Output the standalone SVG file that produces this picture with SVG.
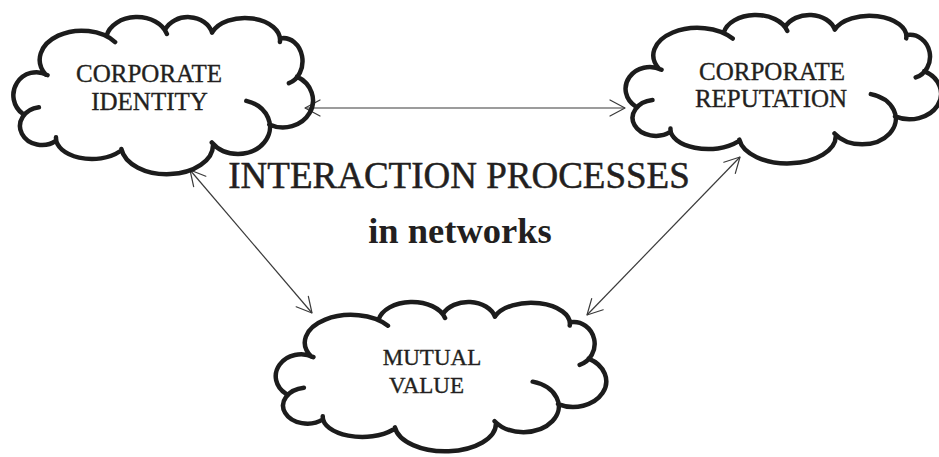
<svg xmlns="http://www.w3.org/2000/svg" xmlns:xlink="http://www.w3.org/1999/xlink" width="939" height="457" viewBox="0 0 939 457">
  <style>
    .cloud { fill: none; stroke: #1c1c1c; stroke-width: 4.5; stroke-linecap: round; stroke-linejoin: round; }
    .label { font-family: "Liberation Serif", "Times New Roman", serif; fill: #231f20; stroke: #231f20; stroke-width: 0.35; text-anchor: middle; }
    .big { font-size: 25px; }
    .small { font-size: 23px; }
    .title { font-family: "Liberation Serif", "Times New Roman", serif; fill: #231f20; font-size: 37px; stroke: #231f20; stroke-width: 0.5; }
    .sub { font-family: "Liberation Serif", "Times New Roman", serif; fill: #231f20; font-size: 36.5px; font-weight: bold; }
    .link { fill: none; stroke: #3a3a3a; stroke-width: 1.2; marker-start: url(#tip); marker-end: url(#tip); }
  </style>
  <defs>
    <!-- open V arrowhead, reused at both ends of every link -->
    <marker id="tip" markerUnits="userSpaceOnUse" markerWidth="20" markerHeight="20" viewBox="-17 -10 20 20" refX="0" refY="0" orient="auto-start-reverse">
      <path d="M-15 -8 L0 0 L-15 8" fill="none" stroke="#3a3a3a" stroke-width="1.2" stroke-linecap="round" stroke-linejoin="round"/>
    </marker>
    <!-- cloud outline: a ring of elliptical bumps whose ends curl inward -->
    <path id="cloud" class="cloud" vector-effect="non-scaling-stroke" d="
      M22.8 113.8 A23 23 0 0 1 47.5 75.1
      M45.6 74.5 A42 29 0 0 1 115.1 42.1
      M106.5 36 A31 23 0 0 1 166.9 34
      M165 29.8 A25 21 0 0 1 212.1 32.6
      M212.1 32.5 A35 22 0 0 1 279.9 41.9
      M280.7 38.4 A19 23 0 0 1 288.9 83.2
      M297 76.6 A30 27 0 0 1 269.3 124.5
      M246.3 100.9 A32 27 0 1 1 211.8 142.5
      M213 145 A46 29 0 0 1 121.4 149
      M119.6 151.5 A36 21 0 0 1 56 137.3
      M56.1 140.6 A22 19 0 1 1 38.9 107.2"/>
  </defs>

  <rect width="939" height="457" fill="#ffffff"/>

  <g id="connectors">
    <line class="link" x1="305" y1="108" x2="625" y2="108"/>
    <line class="link" x1="190" y1="170" x2="312" y2="313"/>
    <line class="link" x1="740" y1="157" x2="587" y2="315"/>
  </g>

  <g id="corporate-identity">
    <use xlink:href="#cloud" href="#cloud"/>
    <text class="label big" x="149" y="82">CORPORATE</text>
    <text class="label big" x="149.5" y="110">IDENTITY</text>
  </g>

  <g id="corporate-reputation">
    <use xlink:href="#cloud" href="#cloud" transform="matrix(1.053 0 0 0.945 611.5 -1.2)"/>
    <text class="label big" x="772" y="80">CORPORATE</text>
    <text class="label big" x="771" y="107">REPUTATION</text>
  </g>

  <g id="mutual-value">
    <use xlink:href="#cloud" href="#cloud" transform="matrix(1.103 0 0 0.951 261 285.7)"/>
    <text class="label small" x="432" y="365">MUTUAL</text>
    <text class="label small" x="426.5" y="393">VALUE</text>
  </g>

  <g id="caption">
    <text class="title" x="459" y="188" text-anchor="middle">INTERACTION PROCESSES</text>
    <text class="sub" x="460" y="243" text-anchor="middle">in networks</text>
  </g>
</svg>
